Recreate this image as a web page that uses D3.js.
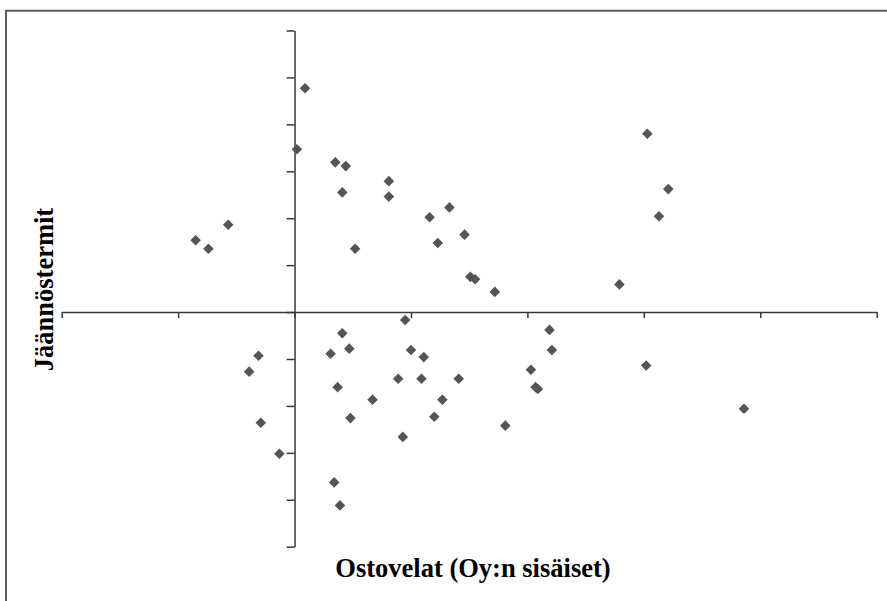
<!DOCTYPE html>
<html>
<head>
<meta charset="utf-8">
<script src="https://cdn.jsdelivr.net/npm/d3@7"></script>
<style>
  html, body { margin: 0; padding: 0; background: #fff; overflow: hidden; }
  svg { display: block; }
</style>
</head>
<body>
<svg id="chart" width="887" height="601"></svg>
<script>
// Residuals (Jäännöstermit) against internal trade payables (Ostovelat)
const xValues = [
  0.09, 0.02, 0.35, 0.44, 0.41, 0.81, 0.81, 0.52, -0.85, -0.74,
  -0.57, 1.16, 1.23, 1.33, 1.46, 1.51, 1.55, 1.72, 2.79, 3.03,
  3.21, 3.13, 0.95, 0.41, 0.47, 0.31, 1.00, 1.11, -0.31, -0.39,
  0.37, 0.89, 1.09, 0.67, 1.27, 0.48, 1.20, -0.29, 0.93, -0.13,
  0.34, 0.39, 2.19, 2.21, 2.03, 2.07, 2.09, 1.41, 1.81, 3.02, 3.86
];
const yValues = [
  4.77, 3.47, 3.19, 3.11, 2.55, 2.79, 2.46, 1.35, 1.53, 1.35,
  1.86, 2.02, 1.47, 2.23, 1.65, 0.75, 0.70, 0.43, 0.59, 3.80,
  2.62, 2.04, -0.17, -0.45, -0.78, -0.89, -0.81, -0.96, -0.93, -1.27,
  -1.60, -1.42, -1.42, -1.87, -1.87, -2.26, -2.23, -2.36, -2.66, -3.02,
  -3.63, -4.12, -0.38, -0.81, -1.23, -1.60, -1.64, -1.42, -2.42, -1.14, -2.06
];
const xTicks = d3.range(-2, 6);
const yTicks = d3.range(-5, 7);
const xTitle = "Ostovelat (Oy:n sisäiset)";
const yTitle = "Jäännöstermit";

const points = xValues.map((x, i) => ({ x, y: yValues[i] }));

const svg = d3.select("#chart");

// outer chart frame: only the left and top edges fall inside the view
svg.append("path")
  .attr("d", "M6,610 L6,10.7 L900,10.7")
  .attr("fill", "none")
  .attr("stroke", "#5e5e5e")
  .attr("stroke-width", 2);

const x = d3.scaleLinear().domain([-2, 5]).range([61.7, 876.7]);
const y = d3.scaleLinear().domain([-5, 6]).range([546.7, 30.5]);

const axisColor = "#3a3a3a";

const gx = svg.append("g")
  .attr("transform", `translate(0,${y(0)})`)
  .call(d3.axisBottom(x).tickValues(xTicks).tickFormat("").tickSize(6).tickSizeOuter(0));

const gy = svg.append("g")
  .attr("transform", `translate(${x(0)},0)`)
  .call(d3.axisLeft(y).tickValues(yTicks).tickFormat("").tickSize(8).tickSizeOuter(0));

[gx, gy].forEach(g => {
  g.selectAll("path, line").attr("stroke", axisColor).attr("stroke-width", 1.5);
});

// diamond markers
const diamond = d3.symbol().type(d3.symbolSquare).size(56);
svg.append("g")
  .selectAll("path")
  .data(points)
  .join("path")
  .attr("d", diamond)
  .attr("transform", d => `translate(${x(d.x)},${y(d.y)}) rotate(45)`)
  .attr("fill", "#555555");

const titleFont = "'Liberation Serif', 'Times New Roman', serif";

svg.append("text")
  .attr("x", 473)
  .attr("y", 576.5)
  .attr("text-anchor", "middle")
  .attr("font-family", titleFont)
  .attr("font-weight", "bold")
  .attr("font-size", 26.5)
  .attr("fill", "#000")
  .text(xTitle);

svg.append("text")
  .attr("transform", "translate(53,289.5) rotate(-90)")
  .attr("text-anchor", "middle")
  .attr("font-family", titleFont)
  .attr("font-weight", "bold")
  .attr("font-size", 26.5)
  .attr("fill", "#000")
  .text(yTitle);
</script>
</body>
</html>
